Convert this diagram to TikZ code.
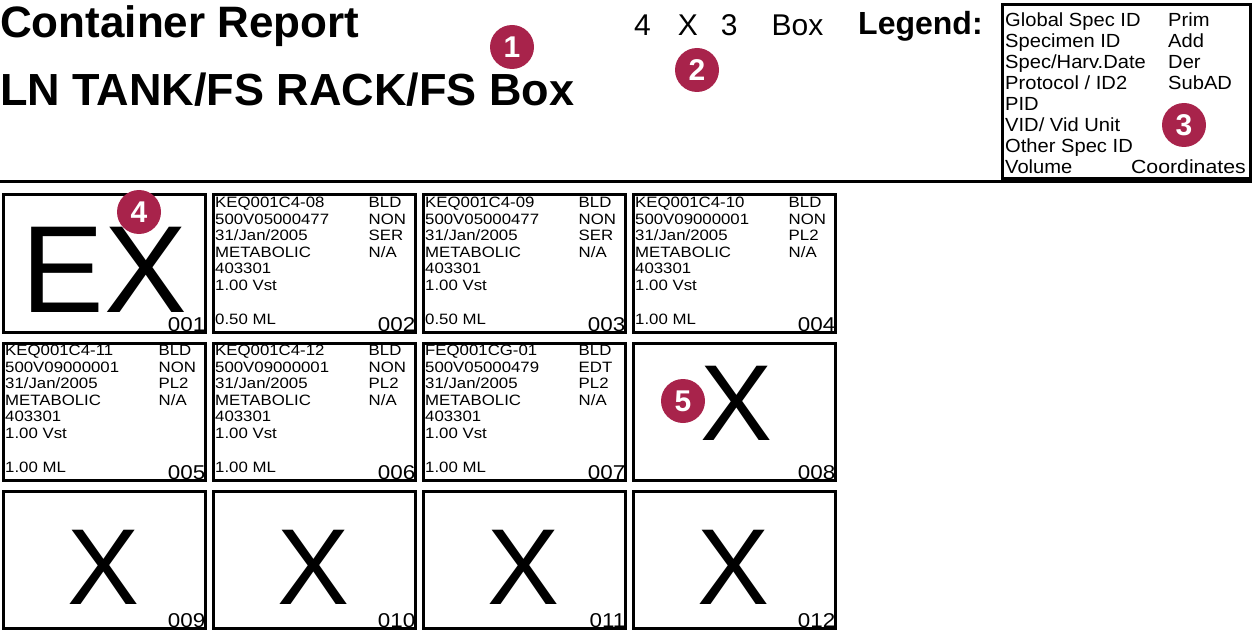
\documentclass[tikz,border=0pt]{standalone}
\usepackage{fontspec}
\setmainfont{Liberation Sans}
\newfontfamily\widefont[FakeStretch=1.12]{Liberation Sans}
\newfontfamily\legfont[FakeStretch=1.06]{Liberation Sans}
\definecolor{badge}{HTML}{A8234B}
\tikzset{
  cellbox/.style={draw, line width=3pt, minimum width=202pt, minimum height=137pt, inner sep=0pt, anchor=north west},
  txt/.style={anchor=base west, inner sep=0pt, font=\widefont\fontsize{15}{15}\selectfont},
  num/.style={anchor=base east, inner sep=0pt, font=\widefont\fontsize{20}{20}\selectfont},
  big/.style={inner sep=0pt, font=\fontsize{108}{108}\selectfont},
  leg/.style={anchor=base west, inner sep=0pt, font=\legfont\fontsize{19}{19}\selectfont},
  badgec/.style={circle, fill=badge, minimum size=44pt, inner sep=0pt, text=white, font=\fontsize{30}{30}\selectfont\bfseries}
}
\newcommand{\spec}[7]{%
  \node[txt] at ([shift={(3.5,14)}]#1.north west) {#2};
  \node[txt] at ([shift={(157,14)}]#1.north west) {#3};
  \node[txt] at ([shift={(3.5,30.6)}]#1.north west) {#4};
  \node[txt] at ([shift={(157,30.6)}]#1.north west) {#5};
  \node[txt] at ([shift={(3.5,47.2)}]#1.north west) {31/Jan/2005};
  \node[txt] at ([shift={(157,47.2)}]#1.north west) {#6};
  \node[txt] at ([shift={(3.5,63.8)}]#1.north west) {METABOLIC};
  \node[txt] at ([shift={(157,63.8)}]#1.north west) {N/A};
  \node[txt] at ([shift={(3.5,80.4)}]#1.north west) {403301};
  \node[txt] at ([shift={(3.5,97)}]#1.north west) {1.00 Vst};
  \node[txt] at ([shift={(3.5,131)}]#1.north west) {#7};
}
\begin{document}
\begin{tikzpicture}[x=1pt,y=-1pt]
\useasboundingbox (0,0) rectangle (1252,631);
\node[anchor=base west, inner sep=0pt, font=\fontsize{44}{44}\selectfont\bfseries] (t1) at (0,38) {Container Report};
\node[anchor=base west, inner sep=0pt, font=\fontsize{45}{45}\selectfont\bfseries] (t2) at (0,106) {LN TANK/FS RACK/FS Box};
\node[anchor=base west, inner sep=0pt, font=\fontsize{30}{30}\selectfont] (dim) at (634,36) {4\hspace{27pt}X\hspace{23pt}3\hspace{34pt}Box};
\node[anchor=base west, inner sep=0pt, font=\fontsize{32}{32}\selectfont\bfseries] (lg) at (858,35) {Legend:};
\node[draw, line width=3pt, minimum width=248pt, minimum height=174pt, anchor=north west, inner sep=0pt] (legbox) at (1001,3) {};
\foreach \t [count=\i] in {Global Spec ID,Specimen ID,Spec/Harv.Date,Protocol / ID2,PID,VID/ Vid Unit,Other Spec ID,Volume}
  \node[leg] at (1005,{5.6+21*\i}) {\t};
\foreach \t [count=\i] in {Prim,Add,Der,SubAD}
  \node[leg] at (1168,{5.6+21*\i}) {\t};
\node[leg, anchor=base east, font=\widefont\fontsize{19}{19}\selectfont] at (1246,173.6) {Coordinates};
\draw[line width=3pt] (0,182) -- (1252,182);
% cells
\foreach \r in {0,1,2} \foreach \c in {0,1,2,3} {
  \pgfmathtruncatemacro{\n}{\r*4+\c+1}
  \node[cellbox] (c\n) at ({1.5+\c*210},{193.5+\r*148}) {};
}
\foreach \n in {1,...,12} {
  \node[num] at ([shift={(-1,-2)}]c\n.south east) {\ifnum\n<10 00\n\else 0\n\fi};
}
\node[big, font=\fontsize{124}{124}\selectfont] at ([yshift=-6]c1.center) {EX};
\node[big] at ([shift={(3,-8)}]c8.center) {X};
\foreach \n in {9,...,12} \node[big] at ([yshift=-8]c\n.center) {X};
\spec{c2}{KEQ001C4-08}{BLD}{500V05000477}{NON}{SER}{0.50 ML}
\spec{c3}{KEQ001C4-09}{BLD}{500V05000477}{NON}{SER}{0.50 ML}
\spec{c4}{KEQ001C4-10}{BLD}{500V09000001}{NON}{PL2}{1.00 ML}
\spec{c5}{KEQ001C4-11}{BLD}{500V09000001}{NON}{PL2}{1.00 ML}
\spec{c6}{KEQ001C4-12}{BLD}{500V09000001}{NON}{PL2}{1.00 ML}
\spec{c7}{FEQ001CG-01}{BLD}{500V05000479}{EDT}{PL2}{1.00 ML}
% badges
\node[badgec] (b1) at (512,47) {1};
\node[badgec] (b2) at (697,70) {2};
\node[badgec] (b3) at (1184,125) {3};
\node[badgec] (b4) at (139,212) {4};
\node[badgec] (b5) at (683,401) {5};
\end{tikzpicture}
\end{document}
